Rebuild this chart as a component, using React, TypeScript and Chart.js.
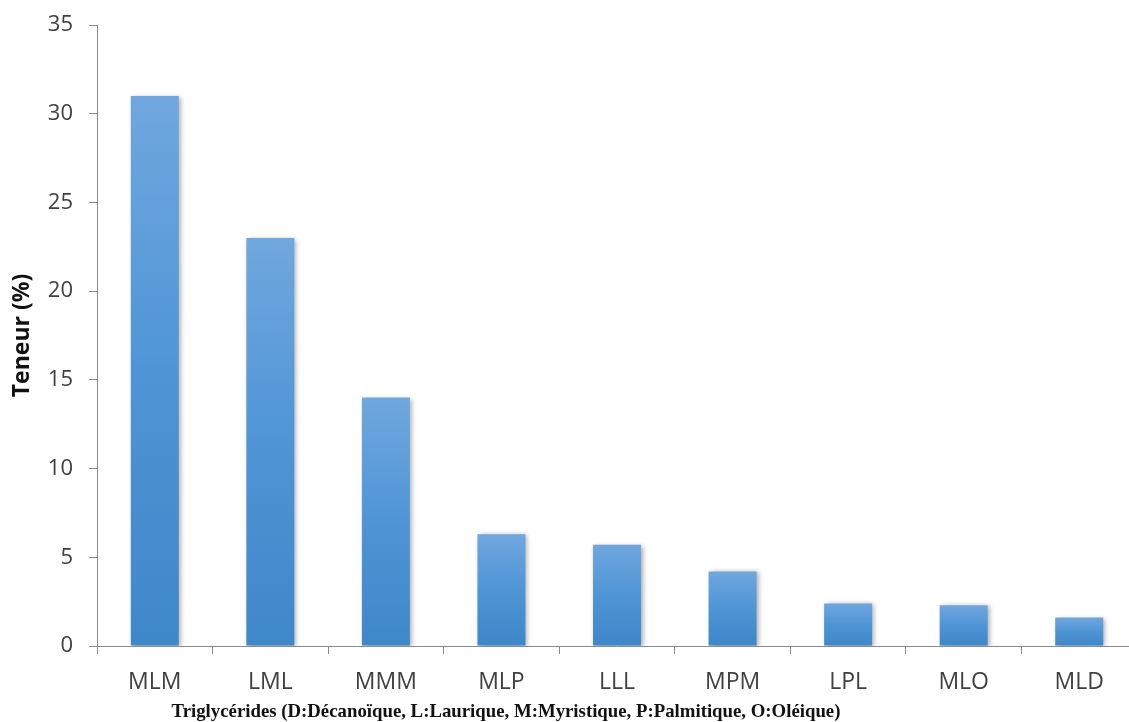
import React, { useEffect, useRef } from "react";
import { Chart, registerables } from "chart.js";

Chart.register(...registerables);

const categories = ["MLM", "LML", "MMM", "MLP", "LLL", "MPM", "LPL", "MLO", "MLD"];
const teneur = [31.0, 23.0, 14.0, 6.3, 5.7, 4.2, 2.4, 2.3, 1.6];
const yTitle = "Teneur (%)";
const xTitle = "Triglycérides (D:Décanoïque, L:Laurique, M:Myristique, P:Palmitique, O:Oléique)";

const barStyle = {
  id: "barStyle",
  beforeDatasetsDraw(chart: any) {
    const ctx = chart.ctx;
    const meta = chart.getDatasetMeta(0);
    meta.data.forEach((el: any) => {
      const g = ctx.createLinearGradient(0, el.y, 0, el.base);
      g.addColorStop(0, "#70a7de");
      g.addColorStop(0.5, "#4f95d6");
      g.addColorStop(1, "#3e87c8");
      el.options = Object.assign({}, el.options, { backgroundColor: g });
    });
    ctx.save();
    ctx.shadowColor = "rgba(0,0,0,0.35)";
    ctx.shadowBlur = 5;
    ctx.shadowOffsetX = 2;
    ctx.shadowOffsetY = 1;
  },
  afterDatasetsDraw(chart: any) {
    chart.ctx.restore();
  },
};

const xTitlePlugin = {
  id: "xTitlePlugin",
  afterDraw(chart: any) {
    const ctx = chart.ctx;
    ctx.save();
    ctx.font = "bold 18.8px 'Liberation Serif', 'Times New Roman', serif";
    ctx.fillStyle = "#111";
    ctx.textAlign = "center";
    ctx.textBaseline = "middle";
    ctx.fillText(xTitle, 506, 712);
    ctx.restore();
  },
};

export default function App() {
  const ref = useRef<HTMLCanvasElement>(null);
  useEffect(() => {
    if (!ref.current) return;
    const chart = new Chart(ref.current, {
      type: "bar",
      data: {
        labels: categories,
        datasets: [
          {
            data: teneur,
            backgroundColor: "#4f95d6",
            barPercentage: 0.415,
            categoryPercentage: 1,
          },
        ],
      },
      options: {
        animation: false,
        responsive: false,
        maintainAspectRatio: false,
        layout: { padding: { top: 25, right: 23, left: 0, bottom: 0 } },
        plugins: { legend: { display: false }, tooltip: { enabled: false } },
        scales: {
          x: {
            grid: { drawOnChartArea: false, drawTicks: true, tickLength: 8, color: "#8a8a8a", offset: true },
            border: { color: "#8a8a8a", width: 1 },
            ticks: { color: "#404040", font: { size: 23, family: "'Open Sans', sans-serif" }, padding: 15 },
            afterFit: (s: any) => { s.height = 76; s.paddingLeft = 0; s.paddingRight = 0; },
          },
          y: {
            min: 0,
            max: 35,
            ticks: { stepSize: 5, color: "#404040", font: { size: 22, family: "'Open Sans', sans-serif" }, padding: 16 },
            grid: { drawOnChartArea: false, drawTicks: true, tickLength: 8, color: "#8a8a8a" },
            border: { color: "#8a8a8a", width: 1 },
            title: {
              display: true,
              text: yTitle,
              color: "#111",
              font: { size: 23, weight: "bold", family: "'Open Sans', sans-serif" },
              padding: { top: 9, bottom: 0 },
            },
            afterFit: (s: any) => { s.width = 97; s.paddingTop = 0; s.paddingBottom = 0; },
          },
        },
      },
      plugins: [barStyle, xTitlePlugin],
    });
    return () => chart.destroy();
  }, []);
  return (
    <div style={{ position: "fixed", left: 0, top: 0, width: 1129, height: 722, overflow: "hidden", background: "#fff" }}>
      <canvas ref={ref} width={1160} height={722} style={{ width: 1160, height: 722, display: "block" }} />
    </div>
  );
}
